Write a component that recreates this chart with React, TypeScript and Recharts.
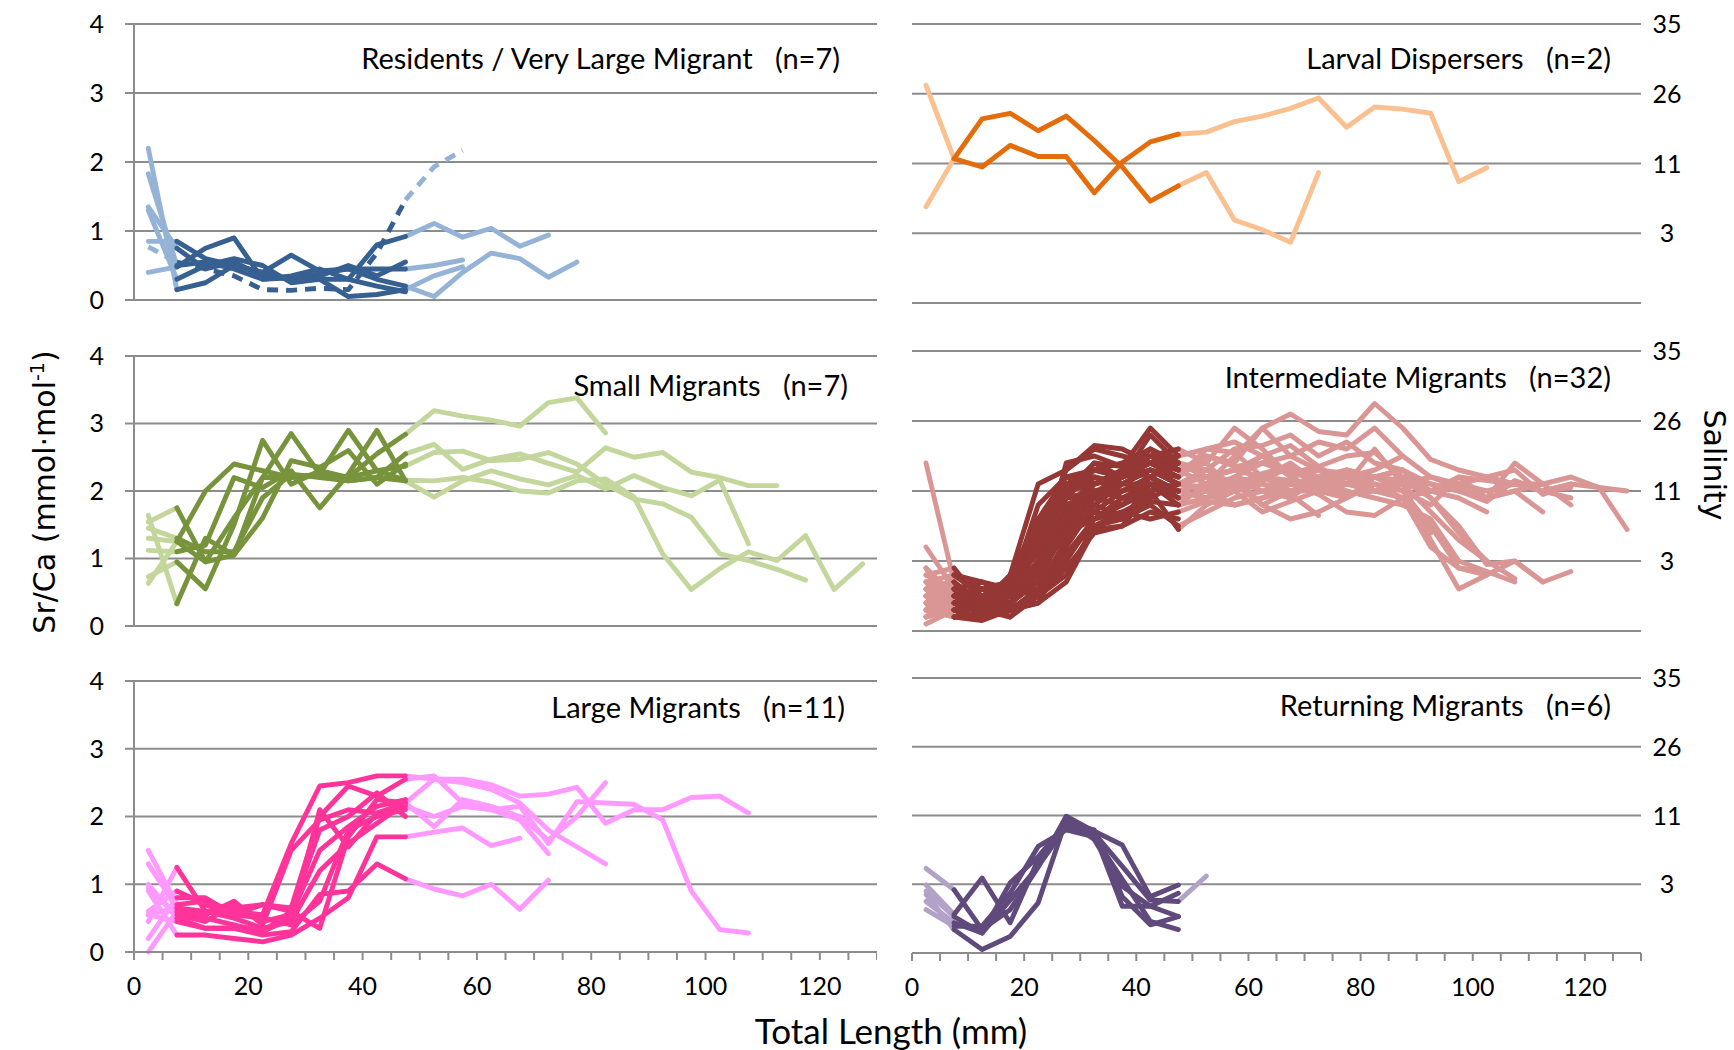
import { LineChart, Line, XAxis, YAxis, CartesianGrid } from "recharts"

// total length (mm) at each otolith sample
const lengthMm = [
  2.5, 7.5, 12.5, 17.5, 22.5, 27.5, 32.5, 37.5, 42.5, 47.5, 52.5, 57.5, 62.5,
  67.5, 72.5, 77.5, 82.5, 87.5, 92.5, 97.5, 102.5, 107.5, 112.5, 117.5, 122.5, 127.5,
]
const xTicks = [0, 5, 10, 15, 20, 25, 30, 35, 40, 45, 50, 55, 60, 65, 70, 75, 80, 85, 90, 95, 100, 105, 110, 115, 120, 125, 130]
const srCaTicks = [0, 1, 2, 3, 4]
const salinityLabels = ["", "3", "11", "26", "35"]

// Sr/Ca profiles, one list per fish, starting at 2.5 mm
const residents = [
  [1.83, 0.5, 0.55, 0.45, 0.3, 0.35, 0.45, 0.3, 0.8, 0.92, 1.11, 0.91, 1.04, 0.78, 0.94],
  [0.85, 0.85, 0.6, 0.5, 0.4, 0.65, 0.42, 0.45, 0.45, 0.45, 0.5, 0.58],
  [1.35, 0.75, 0.45, 0.55, 0.35, 0.3, 0.38, 0.45, 0.3, 0.2, 0.05, 0.4, 0.68, 0.6, 0.33, 0.55],
  [2.2, 0.15, 0.25, 0.5, 0.4, 0.3, 0.3, 0.05, 0.08, 0.15, 0.35, 0.48],
  [0.4, 0.48, 0.75, 0.9, 0.3, 0.32, 0.35, 0.5, 0.35, 0.55],
  [1.3, 0.3, 0.5, 0.6, 0.5, 0.25, 0.3, 0.3, 0.2, 0.12],
]
const veryLargeMigrant = [0.77, 0.55, 0.45, 0.35, 0.15, 0.14, 0.17, 0.15, 0.68, 1.45, 1.93, 2.17]

const larvalDispersers = [
  [3.12, 2.07, 2.64, 2.72, 2.47, 2.68, 2.33, 1.95, 1.46, 1.68, 1.87, 1.19, 1.05, 0.87, 1.87],
  [1.38, 2.07, 1.95, 2.26, 2.1, 2.1, 1.58, 2.02, 2.31, 2.42, 2.45, 2.6, 2.68, 2.79, 2.94, 2.52, 2.81, 2.78, 2.72, 1.74, 1.94],
]

const smallMigrants = [
  [1.3, 1.25, 2.0, 2.4, 2.3, 2.2, 2.25, 2.2, 2.55, 2.84, 3.19, 3.11, 3.05, 2.96, 3.31, 3.38, 2.86],
  [1.54, 1.75, 0.95, 1.6, 2.2, 2.85, 2.25, 2.15, 2.2, 2.55, 2.69, 2.32, 2.47, 2.55, 2.41, 2.28, 2.64, 2.5, 2.57, 2.28, 2.2, 2.08, 2.08],
  [1.64, 0.33, 1.3, 1.05, 2.2, 2.2, 2.25, 2.9, 2.3, 2.37, 2.57, 2.59, 2.45, 2.47, 2.57, 2.4, 2.1, 1.88, 1.81, 1.61, 1.07, 0.97, 0.84, 0.68],
  [1.12, 1.1, 1.2, 2.2, 2.05, 2.3, 1.75, 2.25, 2.9, 2.15, 1.91, 2.15, 2.3, 2.18, 2.09, 2.23, 2.03, 2.23, 2.05, 1.93, 2.16, 1.22],
  [0.73, 0.95, 0.55, 1.5, 2.75, 2.1, 2.3, 2.2, 2.3, 2.16, 2.15, 2.2, 2.13, 2.0, 1.97, 2.15, 2.18, 1.91, 1.07, 0.54, 0.85, 1.1, 0.97, 1.34, 0.54, 0.92],
  [0.63, 1.25, 0.95, 1.05, 1.6, 2.45, 2.35, 2.6, 2.1, 2.4],
  [1.45, 1.3, 1.1, 1.1, 1.9, 2.25, 2.2, 2.15, 2.2, 2.15],
]

const intermediateMigrants = [
  [0.5, 0.4, 0.3, 0.8, 2.1, 2.3, 2.65, 2.6, 2.4, 2.2, 2.5, 2.4, 2.9, 3.1, 2.85, 2.8, 3.25, 2.9, 2.45, 2.3, 2.2, 2.1, 2.0, 2.05],
  [0.3, 0.6, 0.5, 0.4, 0.9, 2.4, 2.5, 2.35, 2.9, 2.5, 2.6, 2.55, 2.2, 2.4, 2.1, 2.25, 2.0, 1.9, 1.2, 0.9, 0.85],
  [0.8, 0.9, 0.4, 0.5, 1.2, 1.9, 2.3, 2.2, 2.5, 2.3, 2.4, 2.9, 2.6, 2.2, 2.3, 2.1, 2.6, 2.1, 2.0, 1.9, 1.7],
  [0.2, 0.3, 0.2, 0.3, 0.6, 1.3, 1.7, 1.6, 2.1, 1.8, 2.1, 2.15, 2.0, 1.9, 2.2, 2.3, 2.0, 2.1, 1.3, 0.6, 0.8, 1.0, 0.7, 0.85],
  [0.6, 0.5, 0.4, 0.6, 0.5, 0.8, 1.5, 1.6, 1.8, 1.5, 1.7, 1.9, 2.0, 2.1, 1.95, 1.7, 1.65, 1.9, 2.0, 2.2, 2.15, 2.1, 2.0, 2.1, 2.05, 1.45],
  [2.4, 0.7, 0.3, 0.5, 1.6, 2.2, 2.3, 2.4, 2.6, 2.4, 2.2, 2.3, 2.5, 2.2, 2.0, 2.3, 2.2, 2.1, 2.0, 2.1, 2.0, 2.1, 2.1, 2.2, 2.05, 2.0],
  [0.9, 0.5, 0.2, 0.7, 1.4, 1.9, 2.0, 2.1, 2.3, 2.1, 2.2, 2.1, 2.25, 2.35, 2.2, 2.1, 2.2, 2.15, 1.9, 1.5, 0.95, 1.0, 0.7],
  [0.4, 0.8, 0.6, 0.4, 1.0, 1.6, 1.9, 2.0, 2.2, 2.0, 1.9, 2.1, 2.2, 2.0, 2.1, 2.2, 2.3, 2.5, 2.2, 2.1, 2.2, 2.3, 1.95, 2.1],
  [0.1, 0.3, 0.5, 0.3, 0.5, 0.9, 1.4, 1.5, 2.0, 1.45, 1.8, 2.0, 2.15, 2.35, 2.15, 2.3, 2.2, 2.0, 1.8, 2.2, 1.9, 2.0, 2.1, 1.8],
  [0.6, 0.2, 0.15, 0.3, 0.4, 1.1, 1.6, 1.7, 1.9, 2.1, 2.3, 2.6, 2.65, 2.8, 2.5, 2.7, 2.4, 2.3, 2.0, 2.1],
  [1.2, 0.6, 0.7, 0.6, 1.8, 2.2, 2.1, 2.3, 2.2, 2.4, 2.3, 2.1, 1.8, 1.6, 1.7, 1.9, 2.1, 2.0, 1.5, 0.9, 0.8],
  [0.7, 0.5, 0.3, 0.5, 1.2, 2.1, 2.3, 2.2, 2.4, 2.2, 2.6, 2.7, 2.5, 2.65, 2.35, 2.5, 2.55, 2.2, 2.1, 2.0, 1.9, 2.4, 2.1],
  [0.3, 0.4, 0.5, 0.6, 0.8, 1.5, 2.0, 1.9, 2.1, 2.0, 2.1, 2.05, 2.2, 2.1, 2.0, 1.95, 2.0, 2.1, 2.2, 2.05, 1.9, 2.0, 1.7],
  [0.5, 0.6, 0.3, 0.4, 0.7, 1.7, 2.2, 2.1, 2.3, 2.1, 2.0, 1.8, 1.9, 2.1, 2.2, 2.0, 1.9, 1.8, 1.6, 1.0, 0.85, 0.7],
  [0.9, 0.3, 0.5, 0.2, 0.5, 1.0, 1.6, 1.8, 2.0, 2.1, 2.2, 2.3, 2.2, 2.15, 2.1, 2.2, 2.0],
  [0.4, 0.7, 0.4, 0.5, 1.5, 2.0, 2.4, 2.35, 2.5, 2.3, 2.5, 2.35, 2.4, 2.25, 2.35, 2.1],
  [0.2, 0.5, 0.6, 0.7, 1.1, 1.8, 1.9, 2.2, 2.3, 2.1, 2.05, 2.2, 2.1, 1.95, 1.65],
  [0.7, 0.2, 0.2, 0.3, 0.5, 1.2, 1.8, 1.65, 1.85, 1.8, 1.9, 2.0, 2.1, 2.0, 2.0, 1.9, 2.2, 2.3, 1.9, 1.4, 1.0, 0.75],
  [0.5, 0.4, 0.3, 0.6, 0.9, 1.6, 2.1, 2.2, 2.6, 2.4, 2.2, 2.3, 2.4, 2.5, 2.3, 2.25, 2.2, 2.3, 2.1, 2.0, 1.85, 2.15, 2.0, 1.9],
  [0.3, 0.8, 0.7, 0.5, 1.3, 1.9, 1.95, 2.3, 2.5, 2.6, 2.4, 2.0, 1.7, 1.85, 2.0, 2.1, 2.0, 2.1, 1.7, 1.3, 1.0],
  [0.6, 0.5, 0.4, 0.4, 0.7, 1.5, 1.7, 2.0, 2.1, 2.0, 1.9, 2.2, 1.8, 2.0, 2.05, 2.2, 2.1, 1.9, 1.4],
  [0.4, 0.3, 0.5, 0.7, 1.3, 2.0, 2.1, 2.2, 2.4, 2.3, 2.1, 2.5, 2.9, 2.5, 2.7, 2.6, 2.9, 2.5],
  [0.8, 0.6, 0.2, 0.4, 0.8, 1.4, 1.9, 1.8, 2.2, 1.9, 2.0, 2.2, 2.4, 2.3, 2.1, 1.95],
  [0.2, 0.4, 0.3, 0.5, 0.6, 1.1, 1.5, 1.7, 1.6, 1.7, 1.85, 1.8, 1.9, 2.0],
  [0.6, 0.3, 0.4, 0.8, 1.6, 2.0, 2.2, 2.1, 2.3, 2.2],
  [0.5, 0.6, 0.3, 0.35, 0.9, 1.4, 1.6, 1.9, 2.0, 2.1],
  [0.3, 0.2, 0.4, 0.6, 1.0, 1.7, 2.1, 2.3, 2.6, 2.3],
  [0.7, 0.8, 0.5, 0.5, 1.4, 2.3, 2.6, 2.5, 2.4, 2.5],
  [0.9, 0.4, 0.6, 0.7, 1.2, 1.8, 2.0, 2.0, 2.2, 2.0],
  [0.4, 0.7, 0.3, 0.2, 0.6, 1.3, 1.8, 2.1, 2.1, 1.9],
  [0.6, 0.3, 0.5, 0.6, 0.9, 1.9, 2.4, 2.2, 2.8, 2.4],
  [0.2, 0.5, 0.4, 0.3, 0.4, 0.7, 1.45, 1.5, 1.7, 1.6],
]

const largeMigrants = [
  [1.5, 0.7, 0.75, 0.6, 0.55, 1.6, 2.45, 2.5, 2.6, 2.6, 2.55, 2.55, 2.47, 2.3, 2.33, 2.43, 1.9, 2.1, 2.1, 2.28, 2.3, 2.05],
  [1.3, 0.65, 0.6, 0.65, 0.7, 0.65, 2.0, 2.45, 2.3, 2.55, 2.6, 2.2, 2.1, 2.15, 1.6, 2.22, 2.2, 2.18, 1.95, 0.9, 0.33, 0.28],
  [1.0, 0.5, 0.35, 0.35, 0.3, 0.5, 2.1, 1.55, 2.05, 2.2, 1.85, 2.25, 2.15, 2.0, 1.65, 2.0, 2.5],
  [0.9, 0.25, 0.25, 0.2, 0.15, 0.25, 0.5, 0.8, 1.7, 1.7, 1.77, 1.83, 1.57, 1.68],
  [0.55, 0.45, 0.35, 0.35, 0.25, 0.3, 0.85, 0.9, 1.3, 1.08, 0.93, 0.83, 1.0, 0.63, 1.06],
  [0.55, 0.65, 0.55, 0.75, 0.4, 1.5, 1.95, 2.1, 2.05, 2.15, 2.0, 2.15, 2.1, 1.95, 1.45],
  [0.45, 1.25, 0.6, 0.5, 0.35, 0.45, 1.2, 1.6, 1.9, 2.2, 2.55, 2.5, 2.4, 2.2, 1.8, 1.55, 1.3],
  [0.2, 0.8, 0.8, 0.55, 0.7, 0.6, 1.8, 2.0, 2.35, 2.0],
  [0.0, 0.6, 0.5, 0.4, 0.3, 0.6, 0.35, 1.7, 2.25, 2.2],
  [0.95, 0.55, 0.45, 0.7, 0.45, 0.55, 1.5, 1.85, 2.15, 2.25],
  [0.6, 0.9, 0.7, 0.55, 0.5, 0.4, 0.75, 1.8, 2.0, 2.1],
]

const returningMigrants = [
  [1.23, 0.92, 0.34, 0.63, 1.25, 1.99, 1.77, 1.57, 0.82, 0.99],
  [0.99, 0.56, 1.09, 0.44, 1.36, 1.89, 1.74, 1.26, 0.77, 0.75, 1.12],
  [0.85, 0.34, 0.05, 0.24, 0.73, 1.94, 1.65, 0.97, 0.68, 0.53],
  [0.75, 0.44, 0.29, 0.77, 1.26, 1.84, 1.74, 0.68, 0.68, 0.87],
  [0.63, 0.39, 0.39, 0.87, 1.55, 1.79, 1.69, 1.07, 0.46, 0.34],
  [0.9, 0.53, 0.29, 1.02, 1.4, 1.89, 1.79, 0.82, 0.41, 0.53],
]

const GRID = "#8c8c8c"
const TICK_FONT = "Lato, 'Open Sans', sans-serif"

type Panel = {
  title: string
  fish: number[][]
  dashed?: number[]
  dark: string
  light: string
  side: "left" | "right"
  x: number
  y: number
  w: number
  h: number
  titleRight: number
  titleY: number
  bottom?: boolean
}

const panels: Panel[] = [
  { title: "Residents / Very Large Migrant   (n=7)", fish: residents, dashed: veryLargeMigrant, dark: "#376092", light: "#95B3D7", side: "left", x: 134, y: 24, w: 743, h: 276, titleRight: 840, titleY: 57 },
  { title: "Larval Dispersers   (n=2)", fish: larvalDispersers, dark: "#E46C0A", light: "#FAC090", side: "right", x: 912, y: 24, w: 729, h: 279, titleRight: 1611, titleY: 57 },
  { title: "Small Migrants   (n=7)", fish: smallMigrants, dark: "#77933C", light: "#C3D69B", side: "left", x: 134, y: 356, w: 743, h: 270, titleRight: 848, titleY: 384 },
  { title: "Intermediate Migrants   (n=32)", fish: intermediateMigrants, dark: "#953735", light: "#D99694", side: "right", x: 912, y: 351, w: 729, h: 280, titleRight: 1611, titleY: 376 },
  { title: "Large Migrants   (n=11)", fish: largeMigrants, dark: "#FF3399", light: "#FF99FF", side: "left", x: 134, y: 681, w: 743, h: 271, titleRight: 845, titleY: 706, bottom: true },
  { title: "Returning Migrants   (n=6)", fish: returningMigrants, dark: "#604A7B", light: "#B3A2C7", side: "right", x: 912, y: 678, w: 729, h: 275, titleRight: 1611, titleY: 704, bottom: true },
]

function split(values: number[]) {
  const pts = values.map((v, i) => ({ x: lengthMm[i], v }))
  return {
    early: pts.slice(0, 2),
    mid: pts.slice(1, 10),
    late: pts.length > 10 ? pts.slice(9) : [],
  }
}

function RightTick(props: any) {
  const { x, y, payload } = props
  return (
    <text x={x + 26} y={y} dy="0.36em" textAnchor="middle" fontFamily={TICK_FONT} fontSize={25} fill="#000">
      {salinityLabels[payload.value]}
    </text>
  )
}

function FishPanel({ p }: { p: Panel }) {
  const axisW = 70
  const axisH = 60
  const padTop = 24
  const padLeft = p.side === "right" ? 24 : 0
  const left = p.side === "left" ? p.x - axisW : p.x - padLeft
  const segs = p.fish.map(split)
  const dashedSegs = p.dashed ? split(p.dashed) : null
  const common = { type: "linear" as const, dataKey: "v", dot: false, activeDot: false, isAnimationActive: false, strokeWidth: 4.9, strokeLinecap: "round" as const, strokeLinejoin: "round" as const }
  const chartW = p.w + axisW + padLeft

  return (
    <div style={{ position: "absolute", left, top: p.y - padTop }}>
      <LineChart width={chartW} height={p.h + padTop + axisH} margin={{ top: padTop, right: 0, bottom: 0, left: padLeft }}>
        <CartesianGrid vertical={false} stroke={GRID} strokeWidth={2} />
        <XAxis
          type="number"
          dataKey="x"
          domain={[0, 130]}
          ticks={xTicks}
          height={axisH}
          axisLine={{ stroke: GRID, strokeWidth: 2 }}
          tickLine={{ stroke: GRID, strokeWidth: 2 }}
          tickSize={8}
          tickMargin={17}
          tick={p.bottom ? { fontFamily: TICK_FONT, fontSize: 25, fill: "#000" } : false}
          tickFormatter={(v: number) => (v % 20 === 0 ? String(v) : "")}
          interval={0}
        />
        {p.side === "left" ? (
          <YAxis
            orientation="left"
            width={axisW}
            domain={[0, 4]}
            ticks={srCaTicks}
            axisLine={{ stroke: GRID, strokeWidth: 2 }}
            tickLine={{ stroke: GRID, strokeWidth: 2 }}
            tickSize={9}
            tickMargin={21}
            tick={{ fontFamily: TICK_FONT, fontSize: 25, fill: "#000" }}
            interval={0}
          />
        ) : (
          <YAxis
            orientation="right"
            width={axisW}
            domain={[0, 4]}
            ticks={srCaTicks}
            axisLine={false}
            tickLine={false}
            tickSize={0}
            tickMargin={0}
            tick={<RightTick />}
            interval={0}
          />
        )}
        {segs.map((s, i) => (
          <Line key={`e${i}`} {...common} data={s.early} stroke={p.light} />
        ))}
        {segs.map((s, i) =>
          s.late.length ? <Line key={`l${i}`} {...common} data={s.late} stroke={p.light} /> : null
        )}
        {dashedSegs && <Line key="de" {...common} data={dashedSegs.early} stroke={p.light} strokeDasharray="11 8" strokeLinecap="butt" />}
        {dashedSegs && <Line key="dl" {...common} data={dashedSegs.late} stroke={p.light} strokeDasharray="11 8" strokeLinecap="butt" />}
        {segs.map((s, i) => (
          <Line key={`m${i}`} {...common} data={s.mid} stroke={p.dark} />
        ))}
        {dashedSegs && <Line key="dm" {...common} data={dashedSegs.mid} stroke={p.dark} strokeDasharray="11 8" strokeLinecap="butt" />}
      </LineChart>
      <div
        style={{
          position: "absolute",
          right: chartW - (p.titleRight - left),
          top: p.titleY - (p.y - padTop),
          transform: "translateY(-50%)",
          whiteSpace: "pre",
          fontFamily: TICK_FONT,
          fontSize: 29,
          color: "#000",
        }}
      >
        {p.title}
      </div>
    </div>
  )
}

export default function App() {
  return (
    <div style={{ position: "absolute", left: 0, top: 0, width: 1734, height: 1050, background: "#fff", overflow: "hidden" }}>
      {panels.map((p) => (
        <FishPanel key={p.title} p={p} />
      ))}
      <div
        style={{
          position: "absolute",
          left: 44,
          top: 492,
          transform: "translate(-50%, -50%) rotate(-90deg)",
          whiteSpace: "nowrap",
          fontFamily: "'DejaVu Sans', sans-serif",
          fontSize: 30,
          color: "#000",
        }}
      >
        Sr/Ca (mmol·mol<sup style={{ fontSize: 19 }}>-1</sup>)
      </div>
      <div
        style={{
          position: "absolute",
          left: 1714,
          top: 465,
          transform: "translate(-50%, -50%) rotate(90deg)",
          whiteSpace: "nowrap",
          fontFamily: "'DejaVu Sans', sans-serif",
          fontSize: 30,
          color: "#000",
        }}
      >
        Salinity
      </div>
      <div
        style={{
          position: "absolute",
          left: 891,
          top: 1030,
          transform: "translate(-50%, -50%)",
          whiteSpace: "nowrap",
          fontFamily: TICK_FONT,
          fontSize: 35,
          color: "#000",
        }}
      >
        Total Length (mm)
      </div>
    </div>
  )
}
